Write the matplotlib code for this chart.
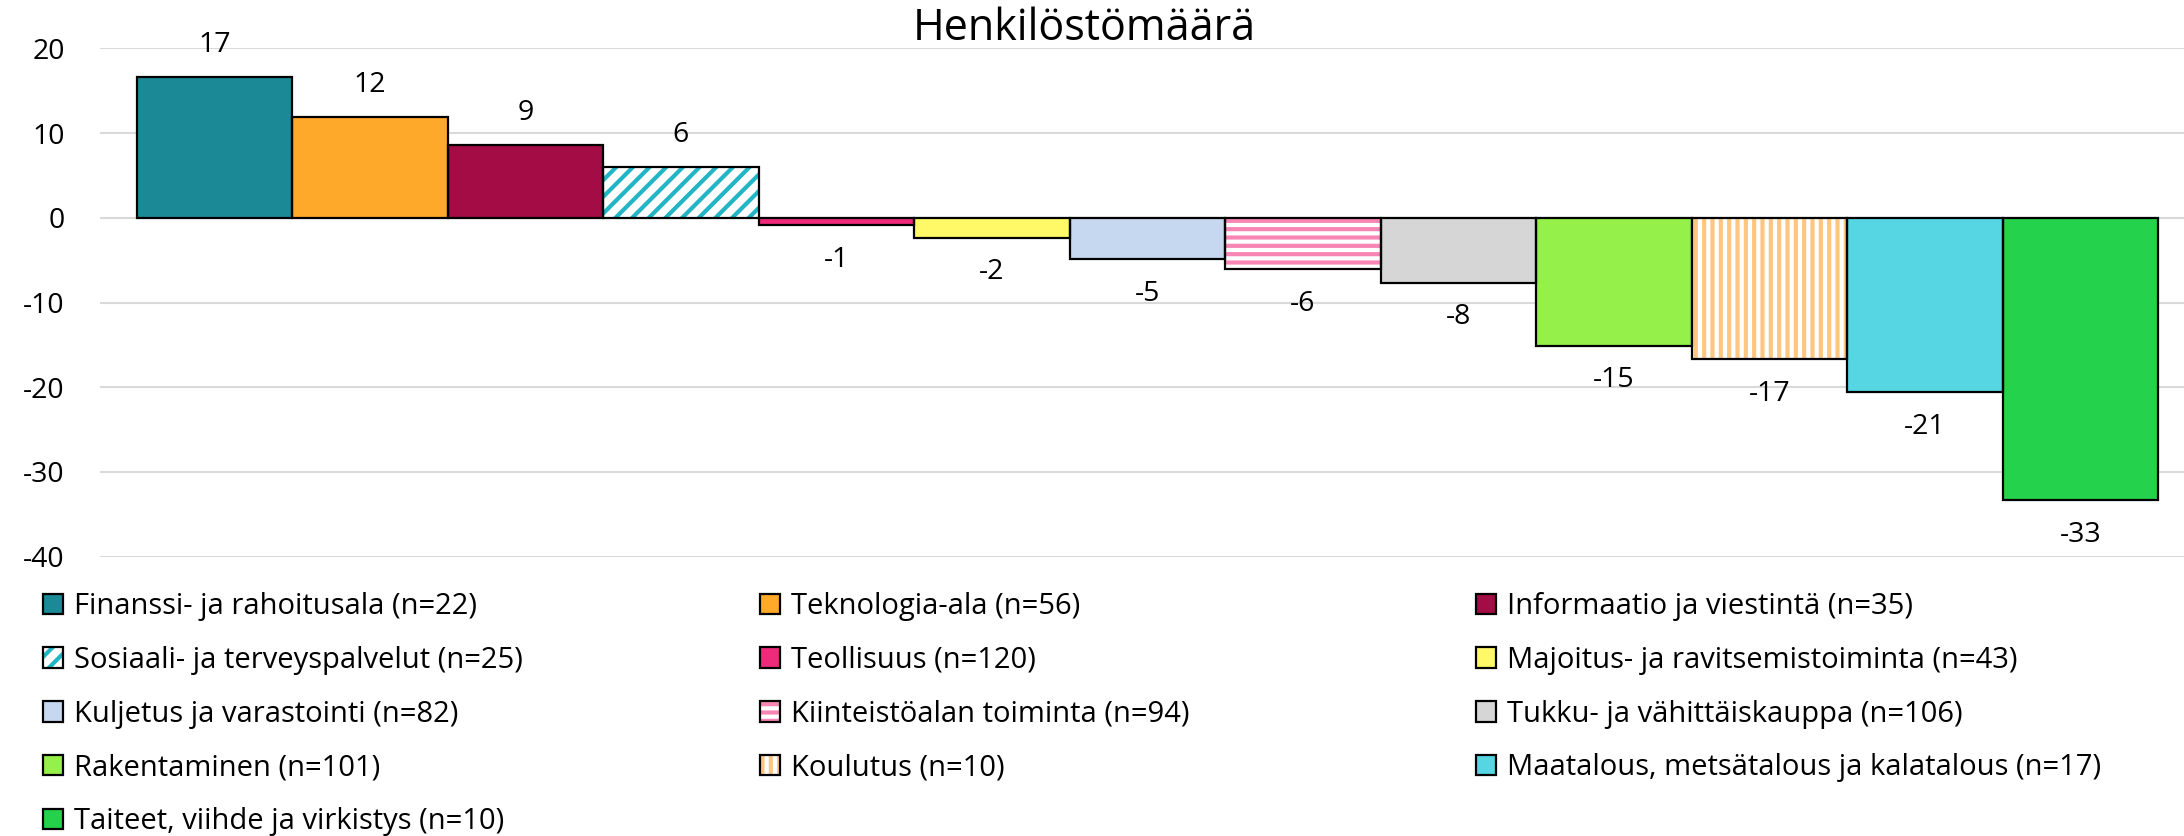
import matplotlib
matplotlib.use("Agg")
from matplotlib import pyplot as plt

plt.rcParams['font.family'] = ['Open Sans', 'DejaVu Sans']
plt.rcParams['axes.unicode_minus'] = False
plt.rcParams['hatch.linewidth'] = 3

# data
categories = ["Finanssi- ja rahoitusala (n=22)", "Teknologia-ala (n=56)",
              "Informaatio ja viestintä (n=35)", "Sosiaali- ja terveyspalvelut (n=25)",
              "Teollisuus (n=120)", "Majoitus- ja ravitsemistoiminta (n=43)",
              "Kuljetus ja varastointi (n=82)", "Kiinteistöalan toiminta (n=94)",
              "Tukku- ja vähittäiskauppa (n=106)", "Rakentaminen (n=101)",
              "Koulutus (n=10)", "Maatalous, metsätalous ja kalatalous (n=17)",
              "Taiteet, viihde ja virkistys (n=10)"]
values = [16.6, 11.85, 8.6, 6.0, -0.9, -2.35, -4.9, -6.05, -7.65, -15.1, -16.7, -20.6, -33.3]
yticks = [-40, -30, -20, -10, 0, 10, 20]

colors = ["#1B8A96", "#FFA92B", "#A30C45", "white", "#EE2A7B", "#FFF968", "#C5D8F0",
          "white", "#D6D6D6", "#96F04A", "white", "#55D6E2", "#24D24C"]
hatches = [None, None, None, "//", None, None, None, "--", None, None, "||", None, None]
hatch_colors = {3: "#22B5C5", 7: "#F886B4", 10: "#FFC680"}

fig = plt.figure(figsize=(21.84, 8.36), dpi=100)
ax = fig.add_axes([0.0456, 0.3341, 0.9544, 0.6081])

x = range(len(values))
bars = ax.bar(x, values, width=1.0, color=colors, edgecolor="none", linewidth=0, zorder=2)
for i, b in enumerate(bars):
    if hatches[i]:
        b.set_hatch(hatches[i])
        b.set_edgecolor(hatch_colors[i])
outline = ax.bar(x, values, width=1.0, fill=False, edgecolor="black", linewidth=1.6, zorder=3)

# value labels
for i, v in enumerate(values):
    off = 23 if v > 0 else -25
    ax.annotate(str(round(v)), (i, v), xytext=(0, off), textcoords="offset points",
                ha="center", va="center", fontsize=20.5, annotation_clip=False)

ax.set_xlim(-0.738, 12.667)
ax.set_ylim(-40, 20)
ax.set_yticks(yticks)
ax.set_xticks([])
ax.tick_params(axis="y", length=0, pad=25, labelsize=20.5)
for s in ax.spines.values():
    s.set_visible(False)
ax.grid(axis="y", color="#D9D9D9", linewidth=1.5, zorder=0)
ax.set_axisbelow(True)

fig.text(0.4963, 0.966, "Henkilöstömäärä", ha="center", va="center", fontsize=31)

# legend in three columns, filled row by row
col_x = [43 / 2184, 760 / 2184, 1476 / 2184]
for c in range(3):
    idx = list(range(c, len(values), 3))
    handles = [(bars[i], outline[i]) for i in idx]
    labels = [categories[i] for i in idx]
    leg = fig.legend(handles, labels, loc="upper left", bbox_to_anchor=(col_x[c], 1 - 592 / 836),
                     frameon=False, fontsize=21, handlelength=0.7, handleheight=0.7,
                     handletextpad=0.35, labelspacing=0.85, borderpad=0, borderaxespad=0)

plt.savefig("out.png", dpi=100)
